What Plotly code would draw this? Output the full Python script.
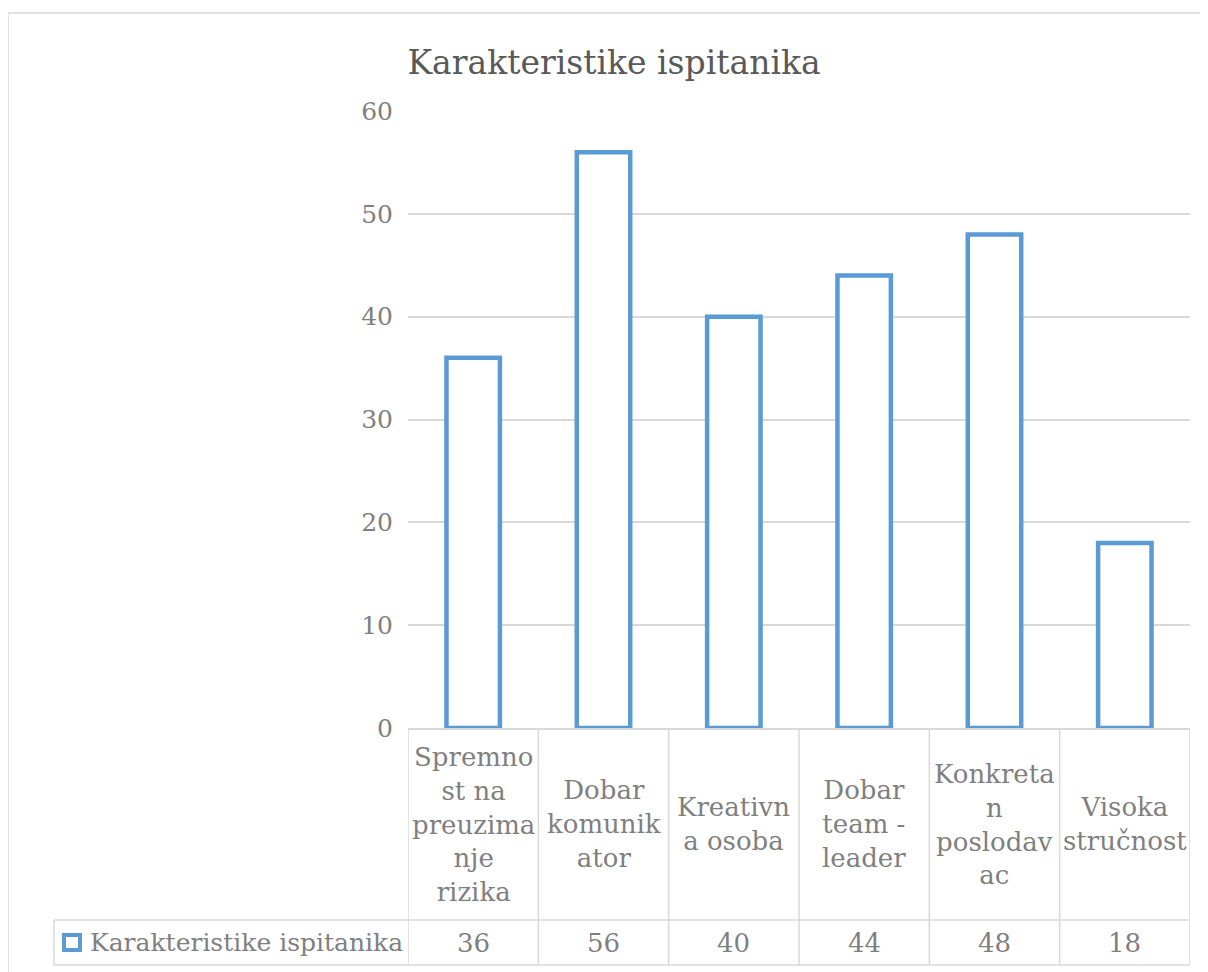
import plotly.graph_objects as go

categories = ["Spremnost na preuzimanje rizika", "Dobar komunikator", "Kreativna osoba",
              "Dobar team - leader", "Konkretan poslodavac", "Visoka stručnost"]
header_labels = ["Spremno<br>st na<br>preuzima<br>nje<br>rizika", "Dobar<br>komunik<br>ator",
                 "Kreativn<br>a osoba", "Dobar<br>team -<br>leader", "Konkreta<br>n<br>poslodav<br>ac",
                 "Visoka<br>stručnost"]
values = [36, 56, 40, 44, 48, 18]
series_name = "Karakteristike ispitanika"
title_text = "Karakteristike ispitanika"

O = 8  # page body margin offset
W, H = 1200, 964
L, T = 408 - O, 111 - O
B = H - (728 - O)
R = W - (1190 - O)
pw, ph = W - L - R, H - T - B

def px_x(p):
    return (p - O - L) / pw

def px_y(p):
    return (H - B - (p - O)) / ph

BLUE = "#5B9BD5"
GRID = "#d9d9d9"
TXT = "#7f7f7f"
FONT = "DejaVu Serif"

fig = go.Figure()
fig.add_trace(go.Bar(x=categories, y=values, name=series_name, width=0.41,
                     marker=dict(color="white", line=dict(color=BLUE, width=4.5)),
                     showlegend=False))

y_hdr_bot = px_y(920)
y_tbl_bot = px_y(965)
x_leg_left = px_x(54)

shapes = []
for k in range(len(categories) + 1):
    shapes.append(dict(type="line", xref="x", yref="paper", x0=k - 0.5, x1=k - 0.5,
                       y0=0, y1=y_tbl_bot, line=dict(color=GRID, width=1.5)))
shapes.append(dict(type="line", xref="paper", yref="paper", x0=x_leg_left, x1=1,
                   y0=y_hdr_bot, y1=y_hdr_bot, line=dict(color=GRID, width=1.5)))
shapes.append(dict(type="line", xref="paper", yref="paper", x0=x_leg_left, x1=1,
                   y0=y_tbl_bot, y1=y_tbl_bot, line=dict(color=GRID, width=1.5)))
shapes.append(dict(type="line", xref="paper", yref="paper", x0=x_leg_left, x1=x_leg_left,
                   y0=y_hdr_bot, y1=y_tbl_bot, line=dict(color=GRID, width=1.5)))
shapes.append(dict(type="rect", xref="paper", yref="paper",
                   x0=px_x(64), x1=px_x(80), y0=px_y(950), y1=px_y(935),
                   fillcolor="white", line=dict(color=BLUE, width=4)))
shapes.append(dict(type="rect", xref="paper", yref="paper",
                   x0=px_x(8), x1=px_x(1240), y0=px_y(1000), y1=px_y(13),
                   line=dict(color=GRID, width=1.5)))

annotations = []
for cat, lab, v in zip(categories, header_labels, values):
    annotations.append(dict(x=cat, xref="x", y=px_y(824), yref="paper", text=lab,
                            showarrow=False, xanchor="center", yanchor="middle",
                            font=dict(family=FONT, size=26, color=TXT)))
    annotations.append(dict(x=cat, xref="x", y=px_y(942.5), yref="paper", text=str(v),
                            showarrow=False, xanchor="center", yanchor="middle",
                            font=dict(family=FONT, size=26, color=TXT)))
annotations.append(dict(x=px_x(88), xref="paper", y=px_y(942.5), yref="paper",
                        text=series_name, showarrow=False, xanchor="left", yanchor="middle",
                        font=dict(family=FONT, size=25, color=TXT)))

fig.update_layout(
    width=W, height=H,
    margin=dict(l=L, r=R, t=T, b=B),
    font=dict(family=FONT, color=TXT),
    plot_bgcolor="white", paper_bgcolor="white",
    title=dict(text=title_text, x=(614 - O) / W, xref="container", xanchor="center",
               y=1 - (62 - O) / H, yref="container", yanchor="middle",
               font=dict(family=FONT, size=33, color="#595959")),
    xaxis=dict(range=[-0.5, len(categories) - 0.5], showticklabels=False, showgrid=False,
               showline=True, linecolor=GRID, linewidth=1.5, zeroline=False, fixedrange=True),
    yaxis=dict(range=[0, 60], dtick=10, showgrid=True, gridcolor=GRID, gridwidth=1.5,
               zeroline=False, showline=False, ticks="", ticklabelstandoff=14,
               tickfont=dict(family=FONT, size=25, color=TXT)),
    shapes=shapes, annotations=annotations,
)

fig.write_html("out.html")
